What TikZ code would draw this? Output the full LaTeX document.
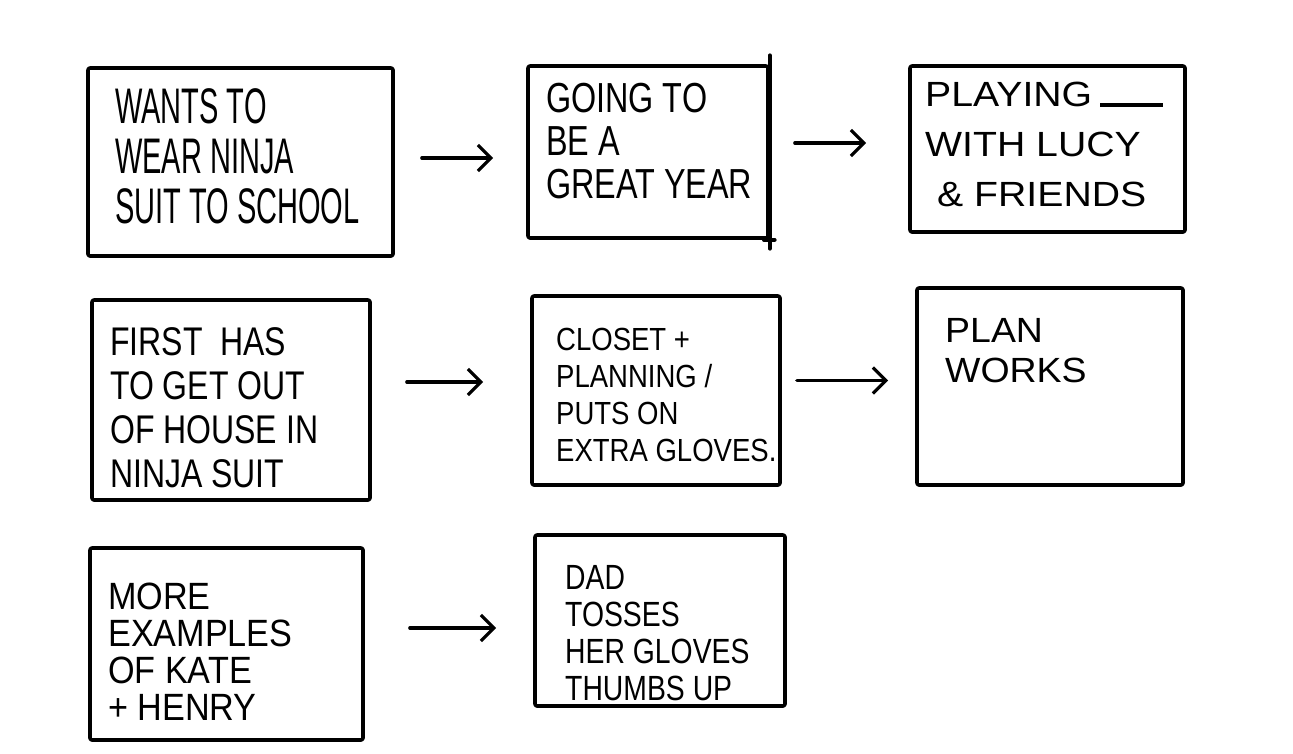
\documentclass[tikz,border=0pt]{standalone}
\usepackage{fontspec}
\setmainfont{Liberation Sans}
\usetikzlibrary{arrows.meta}
\newcommand{\hand}[3]{\addfontfeatures{FakeStretch=#1}\fontsize{#2}{#3}\selectfont}
\begin{document}
\begin{tikzpicture}[x=1pt,y=-1pt,
  box/.style={draw=black, line width=3.6pt, rounded corners=2pt, inner sep=0pt, line join=round},
  stroke/.style={line width=3.6pt, line cap=round},
  txt/.style={anchor=north west, align=left, inner sep=0pt},
  arr/.style={line width=3.2pt, line cap=round, -{Straight Barb[length=13pt,width=26pt,line width=3.2pt]}}]
\useasboundingbox[fill=white] (0,0) rectangle (1293,753);
% row 1
\node[box, minimum width=305pt, minimum height=188pt] (b1) at (240.5,162) {};
\node[box, minimum width=240pt, minimum height=172pt] (b2) at (648,152) {};
\node[box, minimum width=275pt, minimum height=166pt] (b3) at (1047.5,149) {};
% row 2
\node[box, minimum width=278pt, minimum height=200pt] (b4) at (231,400) {};
\node[box, minimum width=248pt, minimum height=189pt] (b5) at (656,390.5) {};
\node[box, minimum width=266pt, minimum height=197pt] (b6) at (1050,386.5) {};
% row 3
\node[box, minimum width=273pt, minimum height=192pt] (b7) at (226.5,644) {};
\node[box, minimum width=250pt, minimum height=171pt] (b8) at (660,620.5) {};
% overshooting strokes of the second box
\draw[stroke] ([yshift=9pt]b2.north east) -- ([yshift=-9pt]b2.south east);
\draw[stroke] ([xshift=-6pt]b2.south east) -- ([xshift=5pt]b2.south east);
% texts
\node[txt, font=\hand{0.58}{50}{50}] (t1) at (115,88) {WANTS TO\\WEAR NINJA\\SUIT TO SCHOOL};
\node[txt, font=\hand{0.77}{42}{43}] (t2) at (546,83) {GOING TO\\BE A\\GREAT YEAR};
\node[txt, font=\hand{1.12}{35}{50}] (t3) at (925,82) {PLAYING\hspace{8pt}\rule[0pt]{63pt}{3.5pt}\\WITH LUCY\\\hspace{12pt}\& FRIENDS};
\node[txt, font=\hand{0.8}{40}{44}] (t4) at (110,327) {FIRST\ \ HAS\\TO GET OUT\\OF HOUSE IN\\NINJA SUIT};
\node[txt, font=\hand{0.86}{32}{37}] (t5) at (556,328) {CLOSET +\\PLANNING /\\PUTS ON\\EXTRA GLOVES.};
\node[txt, font=\hand{1.07}{35}{40}] (t6) at (945,318) {PLAN\\WORKS};
\node[txt, font=\hand{0.9}{38}{37}] (t7) at (108,583) {MORE\\EXAMPLES\\OF KATE\\+ HENRY};
\node[txt, font=\hand{0.81}{35}{37}] (t8) at (565,565) {DAD\\TOSSES\\HER GLOVES\\THUMBS UP};
% arrows
\draw[arr, shorten <=27pt, shorten >=33pt] ([yshift=4pt]b1.east) -- ([yshift=4pt]b1.east -| b2.west);
\draw[arr, shorten <=25pt, shorten >=42pt] ([yshift=9pt]b2.east) -- ([yshift=9pt]b2.east -| b3.west);
\draw[arr, shorten <=35pt, shorten >=47pt] ([yshift=18pt]b4.east) -- ([yshift=18pt]b4.east -| b5.west);
\draw[arr, shorten <=15pt, shorten >=27pt] ([yshift=10pt]b5.east) -- ([yshift=10pt]b5.east -| b6.west);
\draw[arr, shorten <=45pt, shorten >=37pt] ([yshift=16pt]b7.east) -- ([yshift=16pt]b7.east -| b8.west);
\end{tikzpicture}
\end{document}
